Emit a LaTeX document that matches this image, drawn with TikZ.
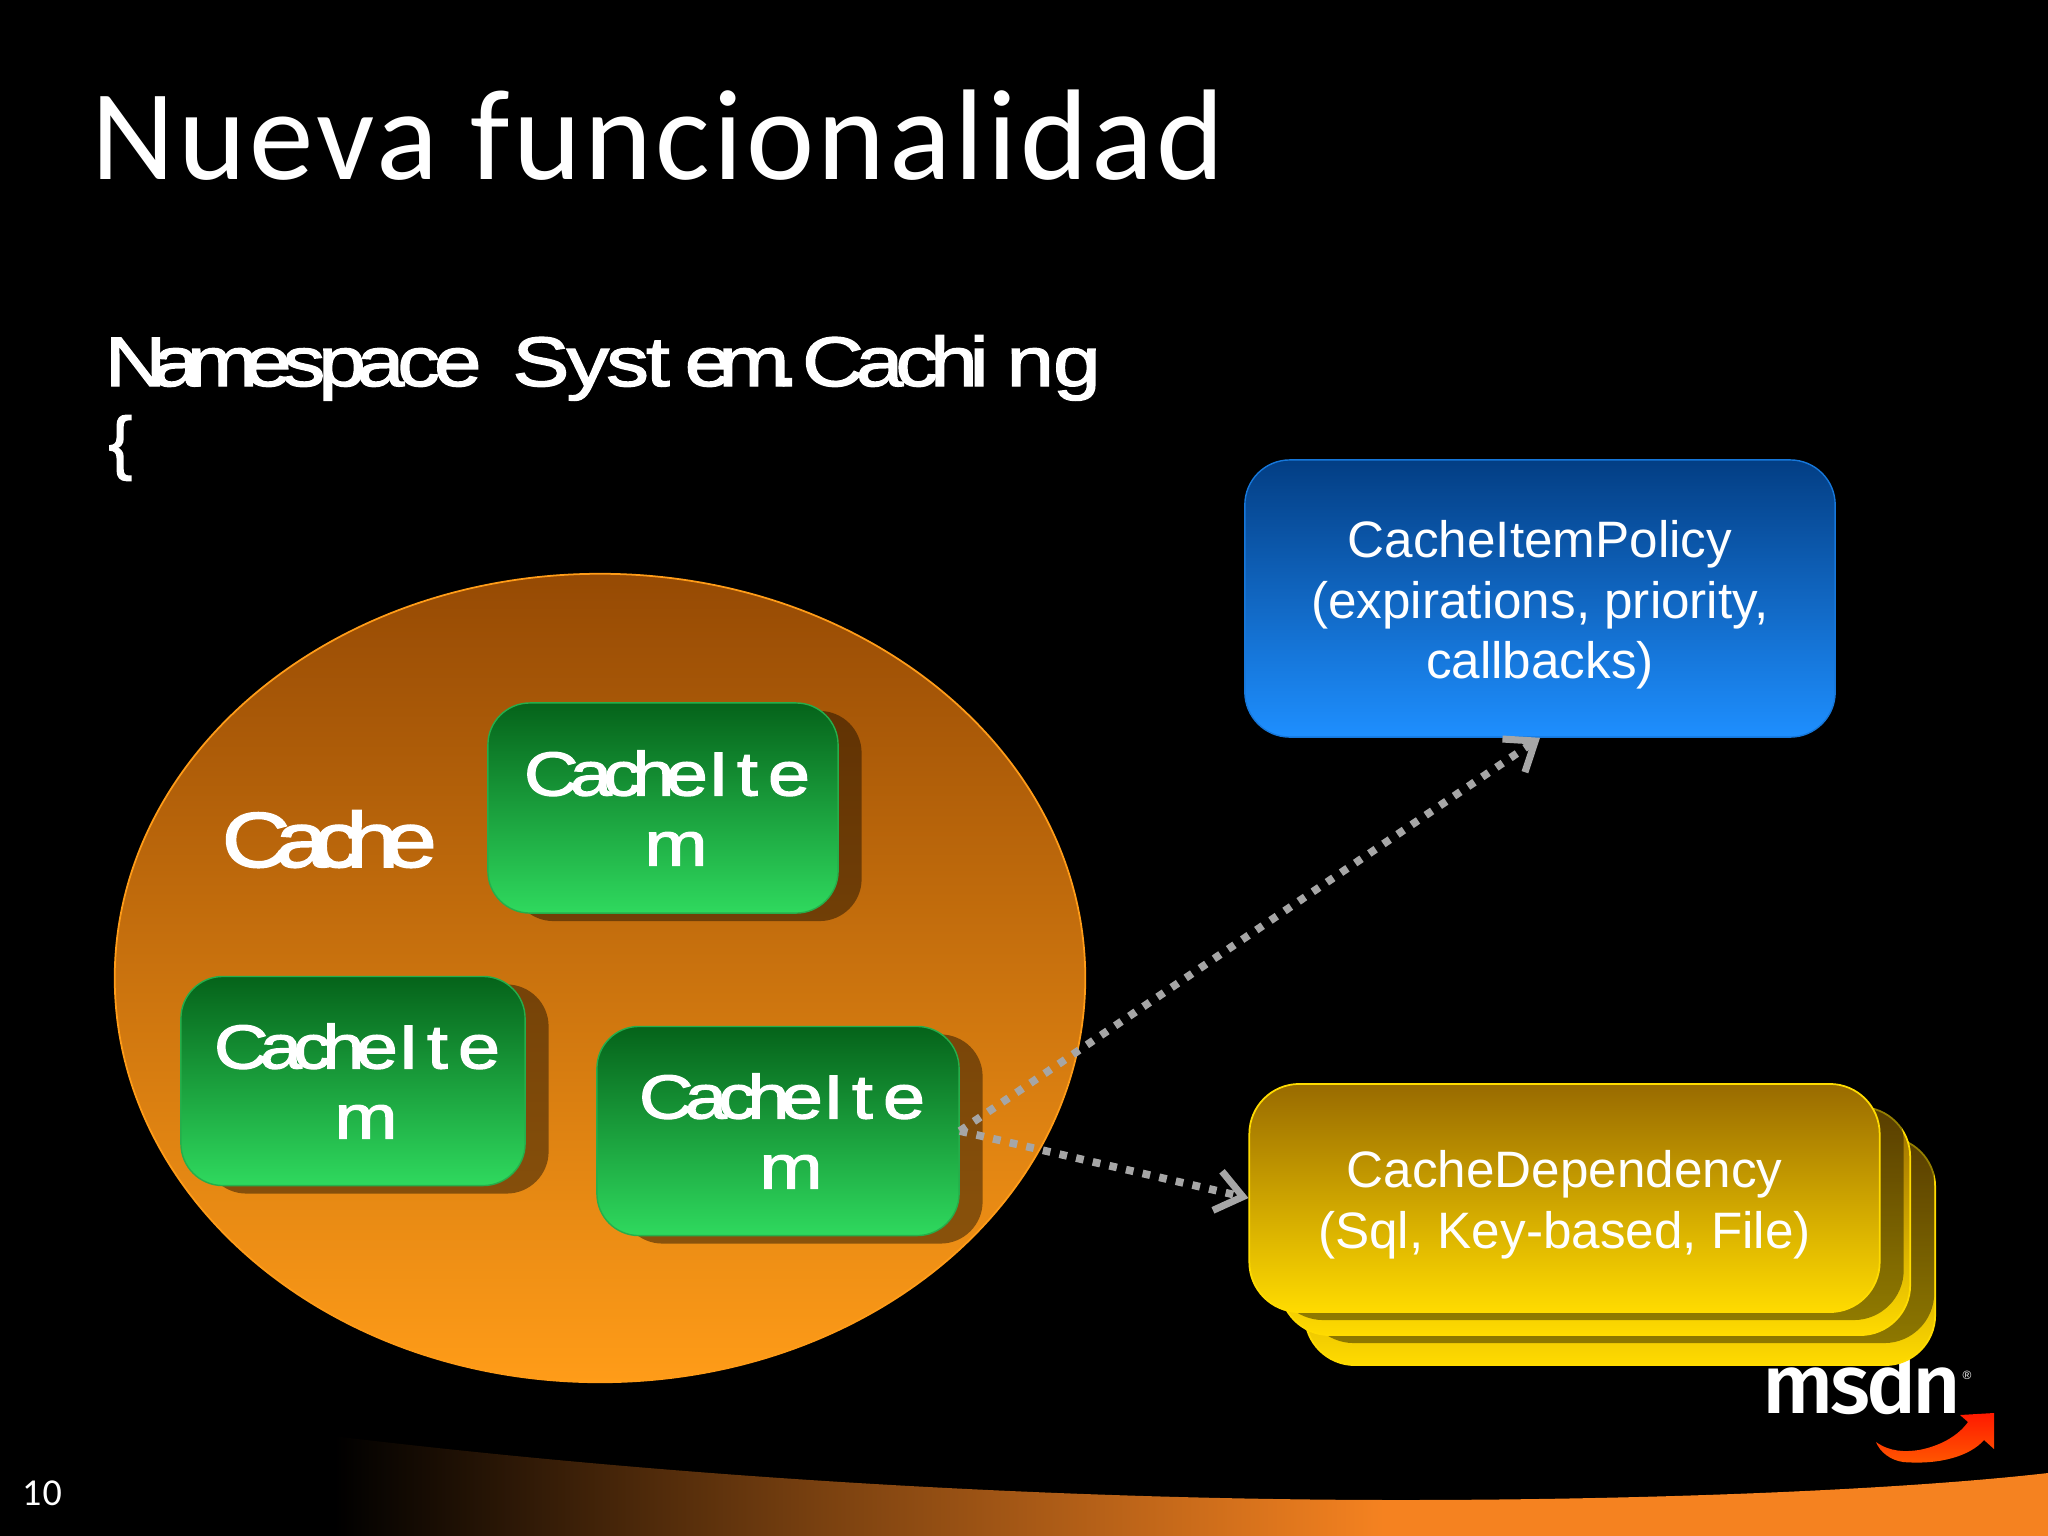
\documentclass[tikz,border=0pt]{standalone}
\usepackage{fontspec}
\setmainfont{Liberation Sans}
\newfontfamily\titlef[LetterSpace=2.6]{Carlito}
\newfontfamily\tightf[FakeStretch=1.22,LetterSpace=-14,FakeBold=2]{Liberation Sans}
\newfontfamily\widef[FakeStretch=1.22,FakeBold=2]{Liberation Sans}
\newfontfamily\plainbold[FakeBold=2]{Liberation Sans}
\newfontfamily\logof{Fira Sans Medium}
\usetikzlibrary{shapes.geometric,shadows,arrows.meta}
\newdimen\pxu \pxu=0.28453pt
\newcommand{\fs}[1]{\fontsize{#1\pxu}{#1\pxu}\selectfont}
\definecolor{ribMid}{HTML}{7A4110}
\definecolor{ribEnd}{HTML}{F58220}
\pgfdeclarehorizontalshading{ribbonshade}{100bp}{color(0bp)=(black); color(26bp)=(black); color(40bp)=(ribMid); color(56bp)=(ribEnd); color(100bp)=(ribEnd)}
\definecolor{ellT}{HTML}{964A04}
\definecolor{ellB}{HTML}{FF9C18}
\definecolor{grnT}{HTML}{05631A}
\definecolor{grnB}{HTML}{2FD95E}
\definecolor{bluT}{HTML}{033E84}
\definecolor{bluB}{HTML}{1E8FFF}
\definecolor{yelT}{HTML}{996B00}
\definecolor{yelB}{HTML}{FFDB00}
\definecolor{arrowgray}{HTML}{A6A6A6}
\newcommand{\itemtext}{\kern8\pxu Cache\kern0\pxu I\kern8\pxu t\kern10\pxu e\\[8\pxu]\rule{0pt}{50\pxu}\kern26\pxu m}
\tikzset{
  x=0.01cm,y=-0.01cm,
  itembox/.style={rectangle,rounded corners=0.42cm,inner sep=0pt,top color=grnT,bottom color=grnB,draw=grnB!80!black,line width=0.4pt,text=white,align=center,
    general shadow={shadow xshift=0.235cm,shadow yshift=-0.08cm,fill=black,opacity=.42},font=\tightf\fs{62},text depth=0pt},
  yelbox/.style={rectangle,rounded corners=0.5cm,inner sep=0pt,minimum width=6.3cm,minimum height=2.28cm,top color=yelT,bottom color=yelB,draw=yelB,line width=0.5pt,text=white,align=center,font=\fs{51.2}},
  yelshadow/.style={general shadow={shadow xshift=0.24cm,shadow yshift=-0.08cm,fill=black,opacity=.42}},
  link/.style={draw=arrowgray,line width=2.2pt,dash pattern=on 2.2pt off 2.65pt,-{Straight Barb[length=7.4pt,width=11.4pt,line width=2pt]}}
}
\begin{document}
\begin{tikzpicture}
\useasboundingbox (0,0) rectangle (2048,1536);
\fill[black] (0,0) rectangle (2048,1536);
% ribbon
\path[shading=ribbonshade] (300,1432) .. controls (700,1482) and (1100,1500) .. (1400,1500) .. controls (1650,1500) and (1900,1490) .. (2048,1473) -- (2048,1536) -- (300,1536) -- cycle;
% title
\node[anchor=base west,inner sep=0pt,text=white,font=\titlef\fs{129}] (title) at (91,179) {Nueva funcionalidad};
\node[anchor=base,inner sep=0pt,text=white,font=\titlef\fs{38}] (pageno) at (42,1505) {10};
% namespace
\node[anchor=base west,inner sep=0pt,text=white,font=\widef\fs{70}] (ns) at (104,386) {N\kern-14\pxu a\kern-13\pxu m\kern-14\pxu e\kern-9\pxu s\kern-7\pxu p\kern-9\pxu a\kern-7\pxu c\kern-6\pxu e\kern31\pxu S\kern-3\pxu y\kern-3\pxu s\kern-3\pxu t\kern15\pxu e\kern-14\pxu m\kern-14\pxu .\kern3\pxu C\kern-8\pxu a\kern-8\pxu c\kern-8\pxu h\kern-8\pxu i\kern18\pxu n\kern-1\pxu g};
\node[anchor=base west,inner sep=0pt,text=white,font=\plainbold\fs{70}] (brace) at (108,466) {\{};
% cache
\node[ellipse,inner sep=0pt,minimum width=9.7cm,minimum height=8.08cm,top color=ellT,bottom color=ellB,draw=ellB,line width=0.5pt] (cache) at (600,978) {};
\node[anchor=base west,inner sep=0pt,text=white,font=\tightf\fs{78}] (cachelabel) at (221,867) {C\kern-15\pxu a\kern-15\pxu c\kern-15\pxu h\kern-15\pxu e};
\node[itembox,minimum width=3.5cm,minimum height=2.1cm] (item1) at (663,808) {\itemtext};
\node[itembox,minimum width=3.44cm,minimum height=2.09cm] (item2) at (353,1081) {\itemtext};
\node[itembox,minimum width=3.62cm,minimum height=2.09cm] (item3) at (778,1131) {\itemtext};
% logo
\node[anchor=base west,inner sep=0pt,text=white,font=\logof\fs{84}] (logo) at (1762,1413) {m\kern-4\pxu s\kern-4\pxu d\kern-4\pxu n};
\node[anchor=base west,inner sep=0pt,text=white,font=\fs{12}] (reg) at (1962,1379) {®};
\fill[top color=red!80!orange,bottom color=orange!70!red] (1876,1442) .. controls (1890,1452) and (1905,1452) .. (1919,1450) .. controls (1940,1446) and (1958,1436) .. (1968,1422) -- (1960,1415) -- (1994,1413) -- (1994,1449) -- (1984,1440) .. controls (1970,1456) and (1940,1465) .. (1903,1462) .. controls (1890,1460) and (1880,1452) .. (1876,1442) -- cycle;
% blue
\node[rectangle,rounded corners=0.45cm,inner sep=0pt,minimum width=5.9cm,minimum height=2.77cm,top color=bluT,bottom color=bluB,draw=bluB!70!bluT,line width=0.4pt,text=white,align=center,font=\fs{51.2}] (policy) at (1540,598.5) {\rule{0pt}{50\pxu}CacheItemPolicy\\[9.5\pxu](expirations, priority,\\[9.5\pxu]callbacks)};
% yellow stack
\node[yelbox] (dep3) at (1620,1251) {};
\node[yelbox,yelshadow] (dep2) at (1595,1221) {};
\node[yelbox,yelshadow] (dep1) at (1564.5,1198) {\rule{0pt}{50\pxu}CacheDependency\\[10\pxu](Sql, Key-based, File)};
% links
\draw[link] (item3.east) -- (policy.south);
\draw[link] (item3.east) -- (dep1.west);
\end{tikzpicture}
\end{document}
